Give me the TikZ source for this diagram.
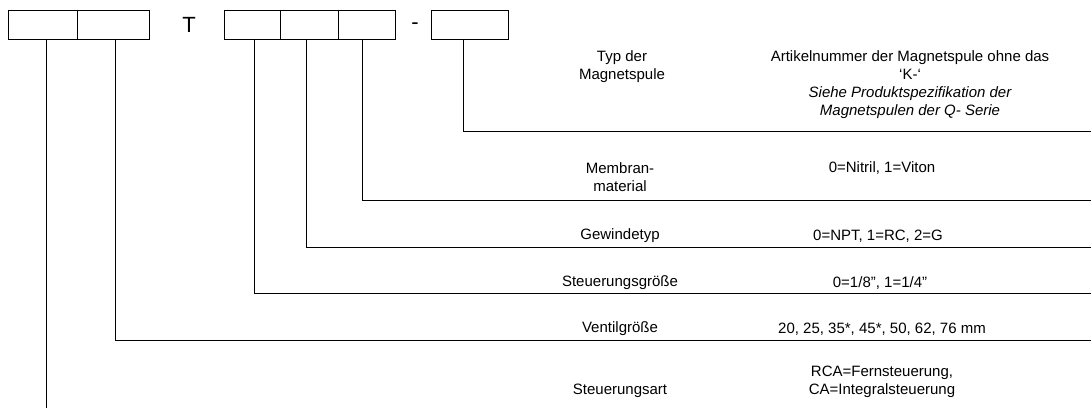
\documentclass[tikz,border=0pt]{standalone}
\usepackage{fontspec}
\setmainfont{Liberation Sans}
\begin{document}
\begin{tikzpicture}[x=1pt,y=-1pt,
  field/.style={draw,line width=0.9pt,minimum height=29pt,inner sep=0pt},
  lead/.style={line width=0.9pt},
  txt/.style={align=center,inner sep=0pt,font=\fontsize{15}{18}\selectfont},
  sep/.style={inner sep=0pt,font=\fontsize{22}{24}\selectfont}]
\useasboundingbox (0,0) rectangle (1091,408);
%Code fields
  \node[field,minimum width=69pt] (art) at (42.5,24.5) {};
  \node[field,minimum width=72.5pt] (size) at (113.25,24.5) {};
  \node[sep] (tee) at (189,25) {T};
  \node[field,minimum width=56pt] (ctl) at (252,24.5) {};
  \node[field,minimum width=58pt] (thread) at (309,24.5) {};
  \node[field,minimum width=57pt] (membrane) at (366.5,24.5) {};
  \node[sep] (dash) at (415,26) {-};
  \node[field,minimum width=77pt] (coil) at (469.5,24.5) {};
%Leaders
  \coordinate (artE) at (46,408);
  \draw[lead] (art.south -| artE) -- (artE);
  \foreach \n/\x/\y in {size/115/340,ctl/254/293,thread/306/247,membrane/362/200,coil/463/131} {
    \coordinate (\n C) at (\x,\y);
    \coordinate (\n E) at (1091,\y);
    \draw[lead] (\n.south -| \n C) |- (\n E);
  }
%Labels
  \node[txt] (coilL) at (622,67) {Typ der\\Magnetspule};
  \node[txt] (coilV) at (910,85) {Artikelnummer der Magnetspule ohne das\\`K-`\\
    \itshape Siehe Produktspezifikation der\\\itshape Magnetspulen der Q- Serie};
  \node[txt] (membraneL) at (620,177) {Membran-\\material};
  \node[txt] (membraneV) at (882,168) {0=Nitril, 1=Viton};
  \node[txt] (threadL) at (620,236) {Gewindetyp};
  \node[txt] (threadV) at (878,236) {0=NPT, 1=RC, 2=G};
  \node[txt] (ctlL) at (620,283) {Steuerungsgröße};
  \node[txt] (ctlV) at (880,283) {0=1/8”, 1=1/4”};
  \node[txt] (sizeL) at (620,329) {Ventilgröße};
  \node[txt] (sizeV) at (882,329) {20, 25, 35*, 45*, 50, 62, 76 mm};
  \node[txt] (artL) at (620,391) {Steuerungsart};
  \node[txt] (artV) at (882,382) {RCA=Fernsteuerung,\\CA=Integralsteuerung};
\end{tikzpicture}
\end{document}
